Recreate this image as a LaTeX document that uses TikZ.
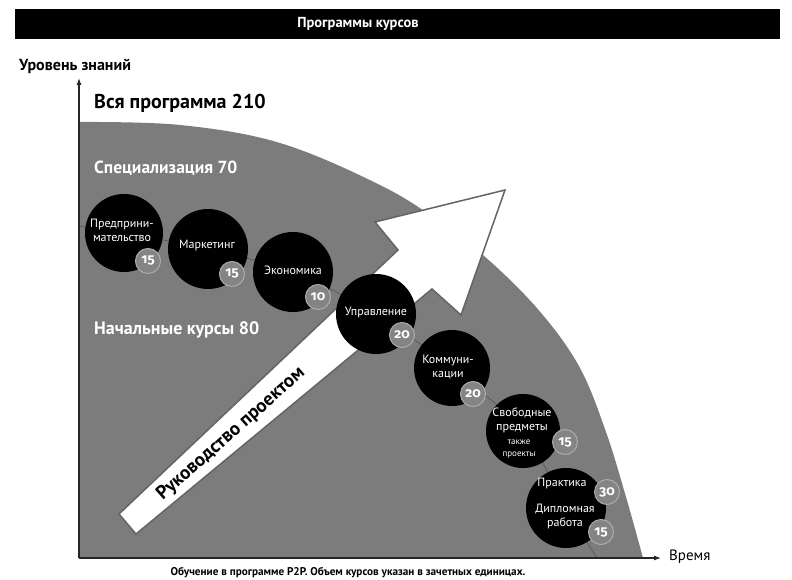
\documentclass[tikz,border=0pt]{standalone}
\usepackage{fontspec}
\setmainfont{PT Sans}
\newfontfamily\numfont[Numbers=OldStyle]{Fira Sans}
\usetikzlibrary{arrows.meta}
\definecolor{region}{RGB}{124,124,124}
\definecolor{badgefill}{RGB}{132,132,132}
\definecolor{badgering}{RGB}{172,172,172}
\definecolor{arrowline}{RGB}{100,100,100}
\definecolor{chain}{RGB}{92,92,92}
\tikzset{
  course/.style={circle, fill=black, inner sep=0pt},
  badge/.style={circle, fill=badgefill, draw=badgering, line width=1pt, minimum size=25pt, inner sep=0pt, text=white, font=\numfont\bfseries\fontsize{13.5}{13.5}\selectfont},
  ctext/.style={text=white, align=center, inner sep=0pt, font=\fontsize{12}{14}\selectfont},
  small/.style={text=white, align=center, inner sep=0pt, font=\fontsize{9}{12}\selectfont},
  axisline/.style={line width=1.1pt, draw=black!85, -{Latex[length=7pt,width=5pt]}},
  heading/.style={inner sep=0pt, anchor=west},
}
\begin{document}
\begin{tikzpicture}[x=1pt,y=-1pt]
\useasboundingbox (0,0) rectangle (792,580);
\fill[white] (0,0) rectangle (792,580);
% title bar
\fill[black] (15,9) rectangle (780,39);
\node[text=white, font=\bfseries\fontsize{14.5}{14.5}\selectfont, inner sep=0pt] (title) at (358,24) {Программы курсов};
% gray region
\fill[region] (79,558) -- plot[smooth, tension=0.6] coordinates {(79,122) (180,125) (280,143) (380,185) (440,222) (492,263) (542,314) (580,368) (606,432) (626,497) (643,558)} -- cycle;
% chain line
\draw[chain, line width=0.8pt] plot[smooth] coordinates {(79,226) (124,233) (208,249) (293,272) (376,314) (452,368) (523,431) (566,508) (597,558)};
% axes
\coordinate (O) at (79,558);
\coordinate (ytop) at (79,78);
\coordinate (xend) at (661,558);
\draw[axisline] (O) -- (ytop);
\draw[axisline] (O) -- (xend);
\node[heading, font=\bfseries\fontsize{16}{16}\selectfont] (ylab) at (19,66) {Уровень знаний};
\node[heading, font=\fontsize{15}{15}\selectfont] (xlab) at (669,557) {Время};
\node[inner sep=0pt, font=\bfseries\fontsize{11.2}{11.2}\selectfont] (caption) at (348,573) {Обучение в программе P2P. Объем курсов указан в зачетных единицах.};
% section labels
\node[heading, font=\bfseries\fontsize{20}{20}\selectfont] (all) at (94,103) {Вся программа 210};
\node[heading, text=white, font=\bfseries\fontsize{17.5}{17.5}\selectfont] (spec) at (94,168) {Специализация 70};
\node[heading, text=white, font=\bfseries\fontsize{18}{18}\selectfont] (basic) at (94,330) {Начальные курсы 80};
% big arrow
\draw[fill=white, draw=arrowline, line width=1.5pt, line join=miter] (505,190) -- (375,222) -- (398,250) -- (119,514) -- (136,534) -- (432,289) -- (461,315) -- cycle;
\node[rotate=41.5, font=\bfseries\fontsize{19}{19}\selectfont, inner sep=0pt] (pm) at (231,434) {Руководство проектом};
% courses
\node[course, minimum size=78pt] (c1) at (124,233) {};
\node[ctext] (t1) at (122,230) {Предприни-\\мательство};
\node[badge] (b1) at (148,261) {15};
\node[course, minimum size=80pt] (c2) at (208,249) {};
\node[ctext] (t2) at (207,245) {Маркетинг};
\node[badge] (b2) at (232,274) {15};
\node[course, minimum size=80pt] (c3) at (293,272) {};
\node[ctext] (t3) at (293,270) {Экономика};
\node[badge] (b3) at (318,297) {10};
\node[course, minimum size=80pt] (c4) at (376,314) {};
\node[ctext] (t4) at (376,312) {Управление};
\node[badge] (b4) at (402,335) {20};
\node[course, minimum size=76pt] (c5) at (452,368) {};
\node[ctext] (t5) at (448,367) {Коммуни-\\кации};
\node[badge] (b5) at (473,394) {20};
\node[course, minimum size=74pt] (c6) at (523,431) {};
\node[ctext] (t6) at (522,420) {Свободные\\предметы};
\node[small] (s6) at (519,449) {также\\проекты};
\node[badge] (b6) at (565,442) {15};
\node[course, minimum size=80pt] (c7) at (566,508) {};
\node[ctext] (t7a) at (562,483) {Практика};
\node[ctext] (t7b) at (565,516) {Дипломная\\работа};
\node[badge] (b7a) at (607,492) {30};
\node[badge] (b7b) at (601,532) {15};
\end{tikzpicture}
\end{document}
